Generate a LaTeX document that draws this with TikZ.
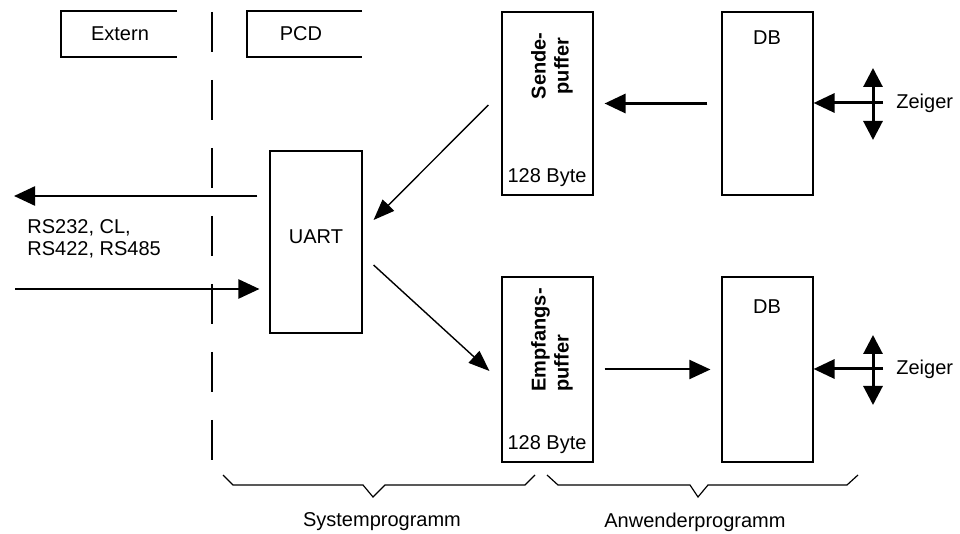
\documentclass[tikz,border=0pt]{standalone}
\usepackage{fontspec}
\setmainfont{Liberation Sans}
\usetikzlibrary{arrows.meta,fit}

\begin{document}
\begin{tikzpicture}[x=0.5pt,y=-0.5pt,
  box/.style={draw, line width=0.55pt, inner sep=0pt},
  frame/.style={line width=0.55pt},
  lbl/.style={inner sep=0pt, font=\fontsize{10}{11}\selectfont},
  vlbl/.style={inner sep=0pt, rotate=90, font=\fontsize{10}{11.5}\selectfont\bfseries},
  bigarrow/.style={line width=1.5pt, -{Triangle[length=10.5pt,width=9.5pt]}},
  midarrow/.style={line width=1.2pt, -{Triangle[length=10.5pt,width=9.5pt]}},
  lowarrow/.style={line width=1pt, -{Triangle[length=10.5pt,width=9.5pt]}},
  thinarrow/.style={line width=0.7pt, -{Triangle[length=10.5pt,width=8pt]}},
  dblarrow/.style={line width=1.5pt, {Triangle[length=9.5pt,width=9.5pt]}-{Triangle[length=9.5pt,width=9.5pt]}},
  divider/.style={line width=1pt, dash pattern=on 20pt off 14pt},
  bracket/.style={line width=0.6pt}
]
\useasboundingbox (0,0) rectangle (960,534);

% header tabs, open on the right
\draw[frame] (177,11) -- (61,11) -- (61,57) -- (177,57);
\node[lbl] (ext) at (120,34) {Extern};
\draw[frame] (362,11) -- (247,11) -- (247,57) -- (362,57);
\node[lbl] (pcd) at (301,34) {PCD};

% border between outside world and controller
\coordinate (divtop) at (212,12);
\coordinate (divbot) at (212,464);
\draw[divider] (divtop) -- (divbot);

% blocks
\node[box, fit={(270,151)(362,333)}] (uart) {};
\node[lbl] at (316,237) {UART};

\node[box, fit={(502,12)(593,195)}] (send) {};
\node[vlbl, align=center] (sendtxt) at (552,66) {Sende-\\puffer};
\node[lbl] (sendsz) at (547,178) {128 Byte};

\node[box, fit={(502,277)(593,462)}] (recv) {};
\node[vlbl, align=left, anchor=west] (recvtxt) at (552,392) {Empfangs-\\puffer};
\node[lbl] (recvsz) at (547,445) {128 Byte};

\node[box, fit={(722,12)(813,195)}] (dbtx) {};
\node[lbl] (dbtxt) at (767,38) {DB};

\node[box, fit={(722,277)(813,462)}] (dbrx) {};
\node[lbl] (dbrxt) at (767,307) {DB};

% serial lines to the outside
\coordinate (lineout) at (14,196);
\coordinate (linein) at (15,289);
\draw[midarrow] ([shift={(-12,0)}]uart.west |- lineout) -- (lineout);
\draw[midarrow] (linein) -- ([shift={(-10,0)}]uart.west |- linein);
\node[lbl, anchor=west, align=left] (iface) at (27,239) {RS232, CL,\\RS422, RS485};

% data flow between buffers and UART
\draw[thinarrow] ([shift={(-13,1.5)}]send.west) -- ([shift={(11,-22)}]uart.east);
\draw[thinarrow] ([shift={(11,23)}]uart.east) -- ([shift={(-12,1.5)}]recv.west);

% data flow between buffers and data blocks
\draw[bigarrow] ([shift={(-14,0)}]dbtx.west) -- ([shift={(11,0)}]send.east);
\draw[lowarrow] ([shift={(11,0)}]recv.east) -- ([shift={(-11,0)}]dbrx.west);

% pointers into the data blocks
\coordinate (ptxtop) at (873,68);
\coordinate (ptxbot) at (873,140);
\draw[dblarrow] (ptxtop) -- (ptxbot);
\coordinate (ptxsrc) at (883,103);
\draw[bigarrow] (ptxsrc) -- (dbtx.east |- ptxsrc);
\node[lbl, anchor=west] (ptxlbl) at (896,103) {Zeiger};

\coordinate (prxtop) at (873,335);
\coordinate (prxbot) at (873,405);
\draw[dblarrow] (prxtop) -- (prxbot);
\coordinate (prxsrc) at (883,369);
\draw[bigarrow] (prxsrc) -- (dbrx.east |- prxsrc);
\node[lbl, anchor=west] (prxlbl) at (896,369) {Zeiger};

% program ranges
\draw[bracket] (223,475) -- (233,485) -- (363,485) -- (373,497) -- (385,485) -- (525,485) -- (535,475);
\node[lbl] (sysprg) at (382,522) {Systemprogramm};
\draw[bracket] (547,475) -- (558,485) -- (690,485) -- (698,497) -- (708,485) -- (847,485) -- (858,475);
\node[lbl] (usrprg) at (695,522) {Anwenderprogramm};
\end{tikzpicture}
\end{document}
